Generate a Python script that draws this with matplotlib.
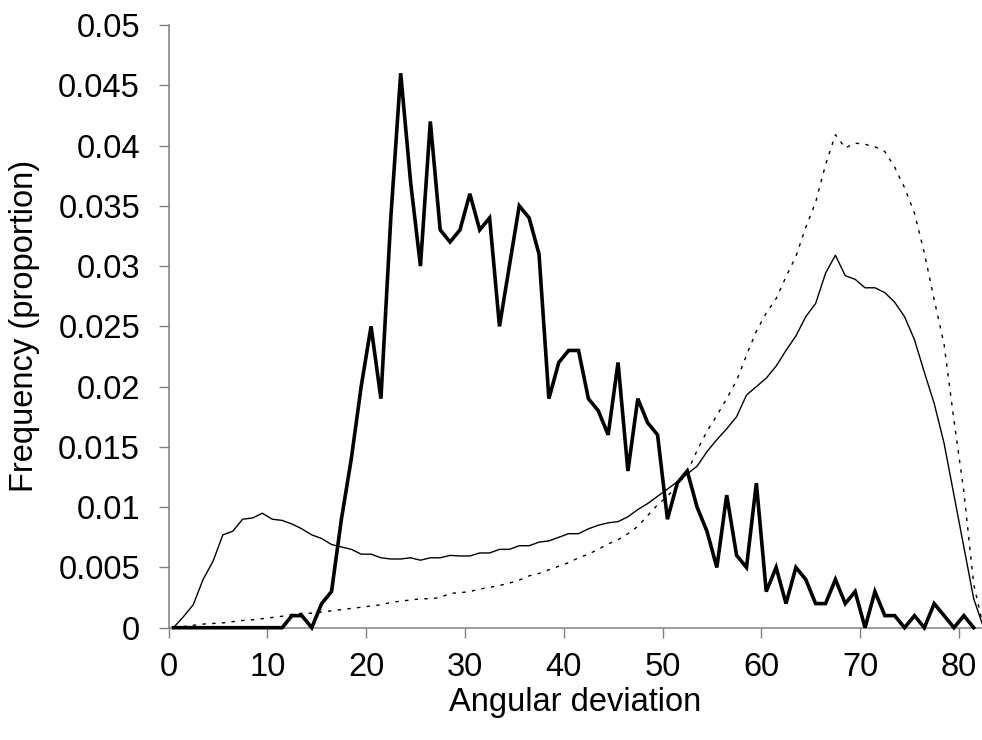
import numpy as np
import matplotlib
matplotlib.use("Agg")
import matplotlib.pyplot as plt

plt.rcParams['font.family'] = ['Liberation Sans', 'DejaVu Sans']

# bin centres (degrees)
x_bold = np.arange(0.5, 82.0, 1.0)      # 0.5 .. 81.5
x_other = np.arange(0.5, 83.0, 1.0)     # 0.5 .. 82.5

bold_series = [0, 0, 0, 0, 0, 0, 0, 0, 0, 0, 0, 0,
               0.001, 0.001, 0, 0.002, 0.003, 0.009, 0.014, 0.020, 0.025, 0.019,
               0.034, 0.046, 0.037, 0.030, 0.042, 0.033, 0.032, 0.033, 0.036, 0.033,
               0.034, 0.025, 0.030, 0.035, 0.034, 0.031, 0.019, 0.022, 0.023, 0.023,
               0.019, 0.018, 0.016, 0.022, 0.013, 0.019, 0.017, 0.016, 0.009, 0.012,
               0.013, 0.010, 0.008, 0.005, 0.011, 0.006, 0.005, 0.012, 0.003, 0.005,
               0.002, 0.005, 0.004, 0.002, 0.002, 0.004, 0.002, 0.003, 0.000, 0.003,
               0.001, 0.001, 0.000, 0.001, 0.000, 0.002, 0.001, 0.000, 0.001, 0.000]

thin_series = [0.0, 0.0009, 0.0019, 0.0040, 0.0055, 0.0077, 0.0080, 0.0090, 0.0091, 0.0095,
               0.0090, 0.0089, 0.0086, 0.0082, 0.0077, 0.0074, 0.0069, 0.0067, 0.0065, 0.0061,
               0.0061, 0.0058, 0.0057, 0.0057, 0.0058, 0.0056, 0.0058, 0.0058, 0.0060, 0.00595,
               0.00595, 0.0062, 0.0062, 0.0065, 0.0065, 0.0068, 0.0068, 0.0071, 0.0072, 0.0075,
               0.0078, 0.0078, 0.0082, 0.0085, 0.0087, 0.0088, 0.0092, 0.0098, 0.0103, 0.0109,
               0.0115, 0.0121, 0.01275, 0.0134, 0.0146, 0.0156, 0.0165, 0.0175, 0.0193, 0.0200,
               0.0207, 0.0217, 0.0230, 0.0242, 0.0258, 0.0269, 0.0294, 0.0309, 0.0292, 0.0289,
               0.0282, 0.0282, 0.0278, 0.0270, 0.0258, 0.0239, 0.0212, 0.0186, 0.0153, 0.0110,
               0.0067, 0.0024, 0.0]

dotted_series = [0.0, 0.0001, 0.0002, 0.0003, 0.00035, 0.0004, 0.0005, 0.0006, 0.00065, 0.00075,
                 0.00085, 0.00095, 0.0011, 0.0012, 0.0012, 0.0013, 0.0014, 0.0015, 0.0016, 0.0017,
                 0.0018, 0.0019, 0.0021, 0.0022, 0.0023, 0.0024, 0.0024, 0.0025, 0.00285, 0.0029,
                 0.0030, 0.0032, 0.00335, 0.0035, 0.0037, 0.00395, 0.0043, 0.0045, 0.0048, 0.0051,
                 0.0054, 0.0058, 0.0061, 0.0065, 0.00695, 0.0073, 0.0078, 0.0084, 0.0093, 0.0102,
                 0.0109, 0.0118, 0.0129, 0.0147, 0.0163, 0.0176, 0.0190, 0.0205, 0.0226, 0.0246,
                 0.0261, 0.0273, 0.0291, 0.0308, 0.0332, 0.0353, 0.0384, 0.0409, 0.0398, 0.0402,
                 0.0401, 0.0399, 0.0395, 0.0382, 0.0365, 0.0344, 0.0311, 0.0272, 0.0235, 0.0172,
                 0.0113, 0.0036, 0.0]

x_ticks = [0, 10, 20, 30, 40, 50, 60, 70, 80]
y_ticks = [0, 0.005, 0.01, 0.015, 0.02, 0.025, 0.03, 0.035, 0.04, 0.045, 0.05]
y_tick_labels = ['0', '0.005', '0.01', '0.015', '0.02', '0.025', '0.03',
                 '0.035', '0.04', '0.045', '0.05']

W, H = 982, 740
fig = plt.figure(figsize=(W / 100, H / 100), dpi=100)
left_px, right_px, top_px, bottom_px = 168.5, 982, 25, 627.7
ax = fig.add_axes([left_px / W, (H - bottom_px) / H,
                   (right_px - left_px) / W, (bottom_px - top_px) / H])

ax.plot(x_other, dotted_series, color='black', lw=1.0, linestyle=(0, (2.5, 4.5)),
        clip_on=False, zorder=2)
ax.plot(x_other, thin_series, color='black', lw=1.0, clip_on=False, zorder=3)
ax.plot(x_bold, bold_series, color='black', lw=2.6, clip_on=False, zorder=4,
        solid_joinstyle='miter')

ax.set_xlim(0, (right_px - left_px) / 9.88)
ax.set_ylim(0, 0.05)
ax.set_xticks(x_ticks)
ax.set_xticklabels([str(t) for t in x_ticks])
ax.set_yticks(y_ticks)
ax.set_yticklabels(y_tick_labels)

for s in ['top', 'right']:
    ax.spines[s].set_visible(False)
for s in ['left', 'bottom']:
    ax.spines[s].set_color('#808080')
    ax.spines[s].set_linewidth(1.1)

FS = 23.5
ax.tick_params(axis='both', direction='out', length=7.5, width=1.0, color='#808080',
               labelsize=FS, labelcolor='black')
ax.tick_params(axis='y', pad=13)
ax.tick_params(axis='x', pad=10)

ax.set_xlabel('Angular deviation', fontsize=FS, labelpad=3)
ax.set_ylabel('Frequency (proportion)', fontsize=FS, labelpad=13)

fig.savefig('out.png', dpi=100)
